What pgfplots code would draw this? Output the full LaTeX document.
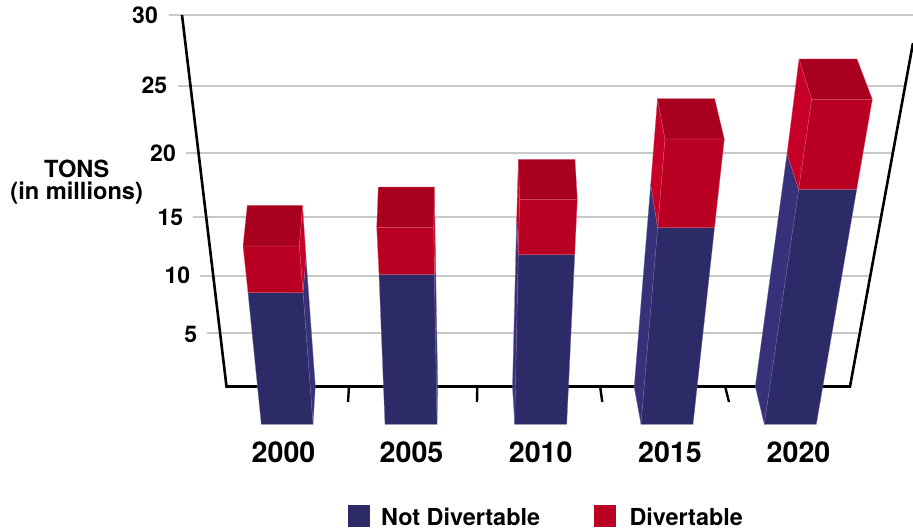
\documentclass[border=0pt]{standalone}
\usepackage{fontspec}
\setmainfont{TeX Gyre Heros}
\usepackage{pgfplots}
\pgfplotsset{compat=1.18}

\definecolor{blueF}{HTML}{2C2B67}
\definecolor{blueS}{HTML}{37317A}
\definecolor{blueE}{HTML}{6F6DA3}
\definecolor{redF}{HTML}{BA0022}
\definecolor{redT}{HTML}{A8001E}
\definecolor{redS}{HTML}{C80028}
\definecolor{redE}{HTML}{DC5A72}
\definecolor{gridc}{HTML}{C8C8C8}

\tikzset{
  ylab/.style={anchor=base east,font=\fontsize{23}{24}\selectfont\bfseries,inner sep=0pt},
  xlab/.style={anchor=base,font=\fontsize{28.6}{30}\selectfont\bfseries,inner sep=0pt},
  leg/.style={anchor=base west,font=\fontsize{23.4}{25}\selectfont\bfseries,inner sep=0pt},
  unit/.style={anchor=base,font=\fontsize{23.6}{24}\selectfont\bfseries,inner sep=0pt},
  bf/.style={fill=blueF,draw=blueE,line width=0.3pt},
  bs/.style={fill=blueS,draw=blueE,line width=0.3pt},
  rf/.style={fill=redF,draw=redE,line width=0.3pt},
  rs/.style={fill=redS,draw=redE,line width=0.3pt},
  rt/.style={fill=redT,draw=redE,line width=0.3pt},
}

\begin{document}
\begin{tikzpicture}
\begin{axis}[
  scale only axis, width=913pt, height=532pt,
  xmin=0, xmax=913, ymin=0, ymax=532, y dir=reverse,
  hide axis,
]
% hide axis leaves the box out of the bounding box
\path (axis cs:0,0) rectangle (axis cs:913,532);
% gridlines 30 ... 5, the scale narrows towards the floor
\addplot[gridc,line width=1.2pt] coordinates {(169,15) (913,15)};
\addplot[gridc,line width=1.2pt] coordinates {(178,86) (904,86)};
\addplot[gridc,line width=1.2pt] coordinates {(186,153) (892,153)};
\addplot[gridc,line width=1.2pt] coordinates {(193,217) (880,217)};
\addplot[gridc,line width=1.2pt] coordinates {(200,276) (870,276)};
\addplot[gridc,line width=1.2pt] coordinates {(207,333) (858,333)};
% walls and floor
\addplot[black,line width=2.6pt,line join=miter] coordinates {(182,15) (226.5,386.5) (850,386.5) (913,43)};
\addplot[black,line width=2.4pt] coordinates {(349,386) (348,402)};
\addplot[black,line width=2.4pt] coordinates {(477.3,386) (477,402)};
\addplot[black,line width=2.4pt] coordinates {(600,386) (602.3,402)};
\addplot[black,line width=2.4pt] coordinates {(725,386) (729,402)};

% 2000
\addplot[bs] coordinates {(303,292.5) (306,257) (315.3,386.5) (313,424.3)} --cycle;
\addplot[bf] coordinates {(248,292.5) (303,292.5) (313,424.3) (261.3,424.3)} --cycle;
\addplot[rs] coordinates {(299.3,246) (302.5,205.3) (306,257) (303,292.5)} --cycle;
\addplot[rf] coordinates {(243,246) (299.3,246) (303,292.5) (248,292.5)} --cycle;
\addplot[rt] coordinates {(247.3,205.3) (302.5,205.3) (299.3,246) (243,246)} --cycle;
% 2005
\addplot[bs] coordinates {(434.3,274.3) (435.3,247) (437.7,386.5) (437,424.3)} --cycle;
\addplot[bf] coordinates {(379,274.3) (434.3,274.3) (437,424.3) (385,424.3)} --cycle;
\addplot[rs] coordinates {(433.7,227.3) (434.3,187) (435.3,247) (434.3,274.3)} --cycle;
\addplot[rf] coordinates {(376.7,227.3) (433.7,227.3) (434.3,274.3) (379,274.3)} --cycle;
\addplot[rt] coordinates {(378.3,187) (434.3,187) (433.7,227.3) (376.7,227.3)} --cycle;
% 2010
\addplot[bs] coordinates {(518.3,254.7) (516.7,218) (512.5,386.5) (514.7,424.3)} --cycle;
\addplot[bf] coordinates {(518.3,254.7) (574.7,254.7) (566.7,424.3) (514.7,424.3)} --cycle;
\addplot[rs] coordinates {(519.7,199.3) (518.3,159.3) (516.7,218) (518.3,254.7)} --cycle;
\addplot[rf] coordinates {(519.7,199.3) (577.3,199.3) (574.7,254.7) (518.3,254.7)} --cycle;
\addplot[rt] coordinates {(518.3,159.3) (575,159.3) (577.3,199.3) (519.7,199.3)} --cycle;
% 2015
\addplot[bs] coordinates {(657.7,227.7) (650.7,184.3) (634.2,387) (641,424.3)} --cycle;
\addplot[bf] coordinates {(657.7,227.7) (714.5,227.7) (693,424.3) (641,424.3)} --cycle;
\addplot[rs] coordinates {(665,139) (657.5,98.7) (650.7,184.3) (657.7,227.7)} --cycle;
\addplot[rf] coordinates {(665,139) (724.3,139) (714.5,227.7) (657.7,227.7)} --cycle;
\addplot[rt] coordinates {(657.5,98.7) (714.7,98.7) (724.3,139) (665,139)} --cycle;
% 2020
\addplot[bs] coordinates {(798.7,189.3) (787,153.7) (755.3,386.5) (764.3,424.3)} --cycle;
\addplot[bf] coordinates {(798.7,189.3) (856.7,189.3) (816.3,424.3) (764.3,424.3)} --cycle;
\addplot[rs] coordinates {(811.7,99.3) (799,59) (787,153.7) (798.7,189.3)} --cycle;
\addplot[rf] coordinates {(811.7,99.3) (872.3,99.3) (856.7,189.3) (798.7,189.3)} --cycle;
\addplot[rt] coordinates {(799,59) (857,59) (872.3,99.3) (811.7,99.3)} --cycle;

% legend swatches
\addplot[fill=blueF,draw=none] coordinates {(348,505) (370,505) (370,527) (348,527)} --cycle;
\addplot[fill=redF,draw=none] coordinates {(594,505) (616,505) (616,527) (594,527)} --cycle;

% value labels follow the slanted wall
\node[ylab] at (axis cs:158,23.3) {30};
\node[ylab] at (axis cs:167.3,93.3) {25};
\node[ylab] at (axis cs:176,161.7) {20};
\node[ylab] at (axis cs:183.3,225.7) {15};
\node[ylab] at (axis cs:190.3,283.6) {10};
\node[ylab] at (axis cs:197.3,342) {5};
\node[unit] at (axis cs:76.7,177.3) {TONS};
\node[unit] at (axis cs:76.7,199.5) {(in millions)};

\node[xlab] at (axis cs:283.5,462.3) {2000};
\node[xlab] at (axis cs:411.5,462.3) {2005};
\node[xlab] at (axis cs:540.7,462.3) {2010};
\node[xlab] at (axis cs:670,462.3) {2015};
\node[xlab] at (axis cs:798.5,462.3) {2020};

\node[leg] at (axis cs:381,525) {Not Divertable};
\node[leg] at (axis cs:629.3,525) {Divertable};
\end{axis}
\end{tikzpicture}
\end{document}
